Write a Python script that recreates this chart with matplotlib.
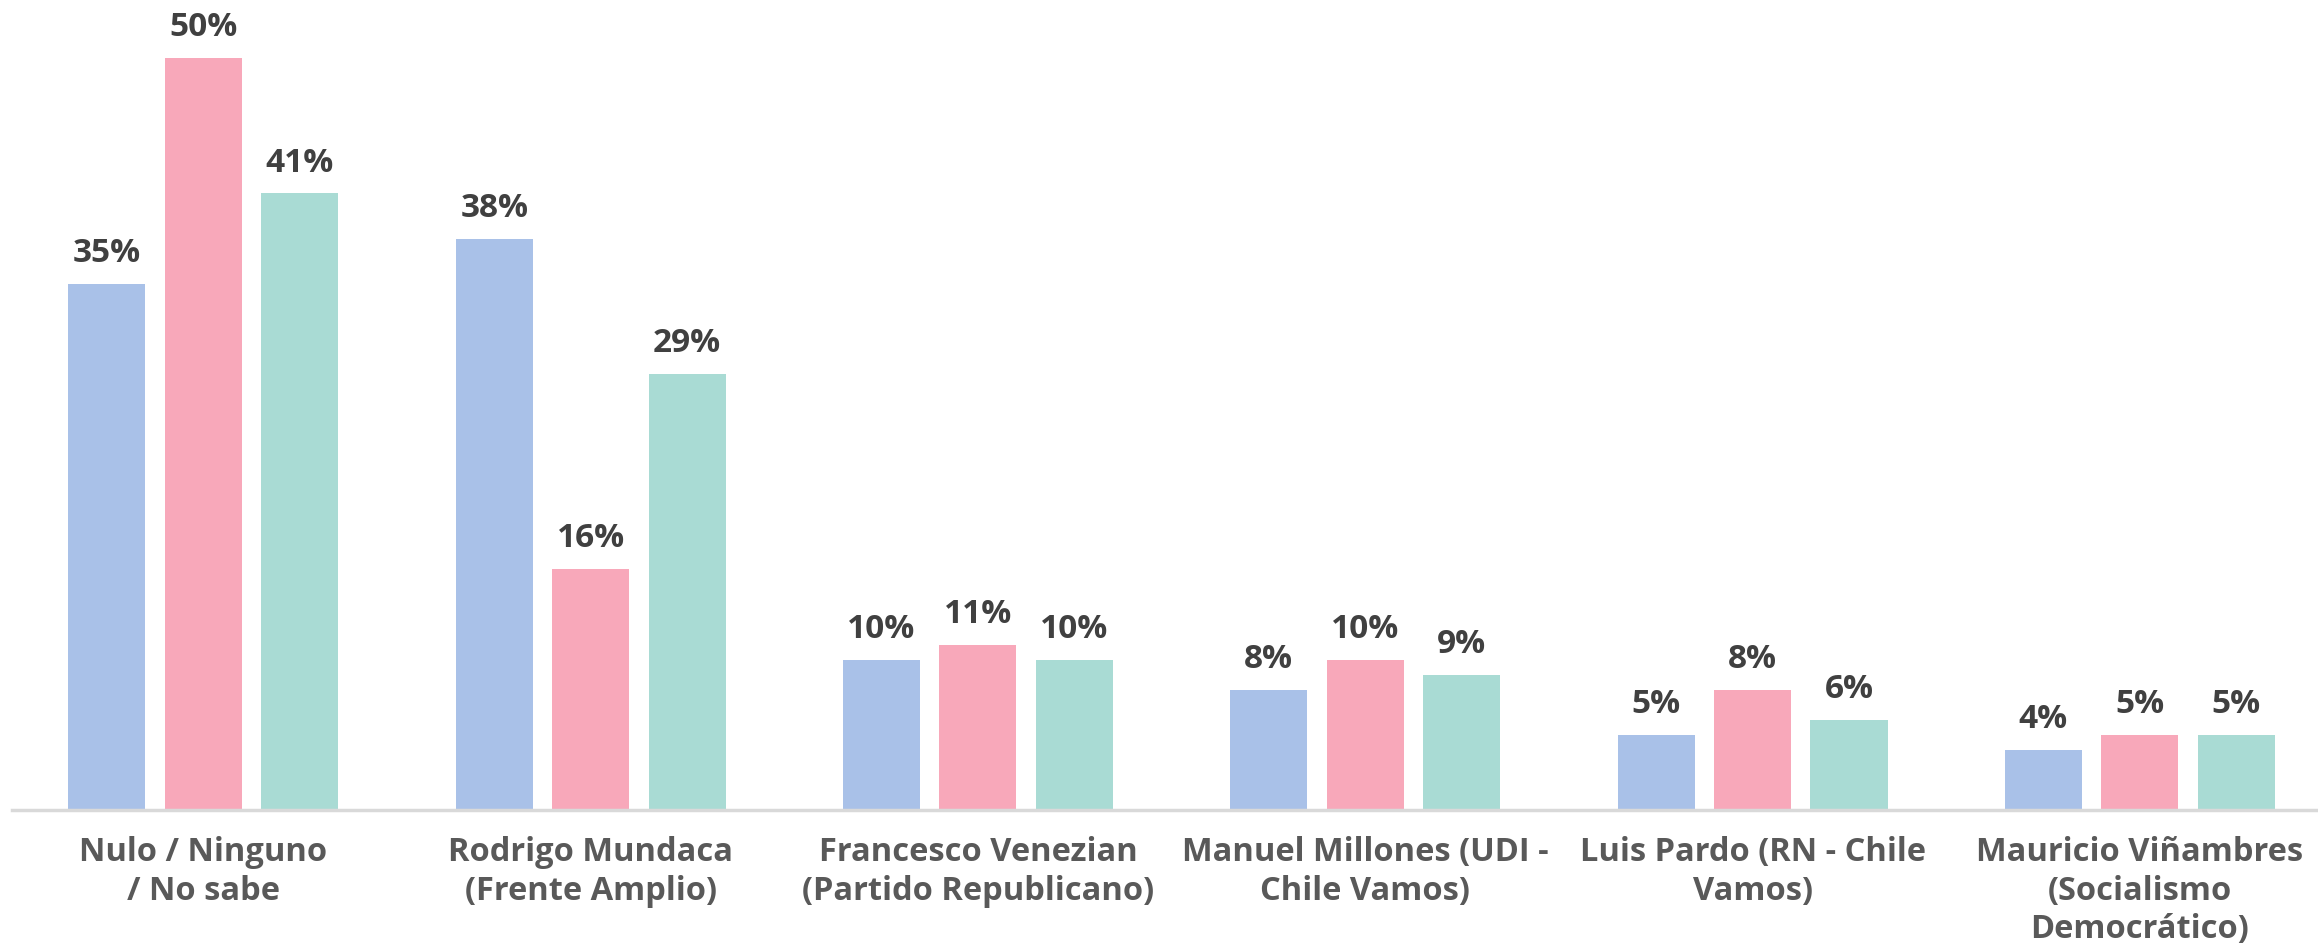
import numpy as np
import matplotlib.pyplot as plt

categories = ['Nulo / Ninguno\n/ No sabe', 'Rodrigo Mundaca\n(Frente Amplio)',
              'Francesco Venezian\n(Partido Republicano)', 'Manuel Millones (UDI -\nChile Vamos)',
              'Luis Pardo (RN - Chile\nVamos)', 'Mauricio Viñambres\n(Socialismo\nDemocrático)']
serie_1 = [35, 38, 10, 8, 5, 4]
serie_2 = [50, 16, 11, 10, 8, 5]
serie_3 = [41, 29, 10, 9, 6, 5]

colors = ['#A9C1E8', '#F8A8BA', '#A9DBD4']

fig = plt.figure(figsize=(23.18, 9.46), dpi=100)
ax = fig.add_axes([12/2318, 136/946, 1 - 12/2318, 810/946])

x = np.arange(len(categories))
step = 0.249
width = 0.199
for i, vals in enumerate([serie_1, serie_2, serie_3]):
    pos = x + (i - 1)*step
    ax.bar(pos, vals, width, color=colors[i], zorder=2)
    for px, v in zip(pos, vals):
        ax.annotate(f'{v}%', (px, v), xytext=(0, 10), textcoords='offset points',
                    ha='center', va='bottom', fontsize=24, fontweight='bold',
                    color='#404040', family='Open Sans')

ax.set_xlim(-0.494, 5.46)
ax.set_ylim(0, 53.86)
ax.set_xticks(x)
ax.set_xticklabels(categories, fontsize=23.5, fontweight='bold', color='#595959',
                   family='Open Sans', linespacing=1.22)
ax.tick_params(axis='x', length=0, pad=19)
ax.set_yticks([])
for s in ['top', 'right', 'left']:
    ax.spines[s].set_visible(False)
ax.spines['bottom'].set_color('#D9D9D9')
ax.spines['bottom'].set_linewidth(2.5)

fig.savefig('out.png', dpi=100)
